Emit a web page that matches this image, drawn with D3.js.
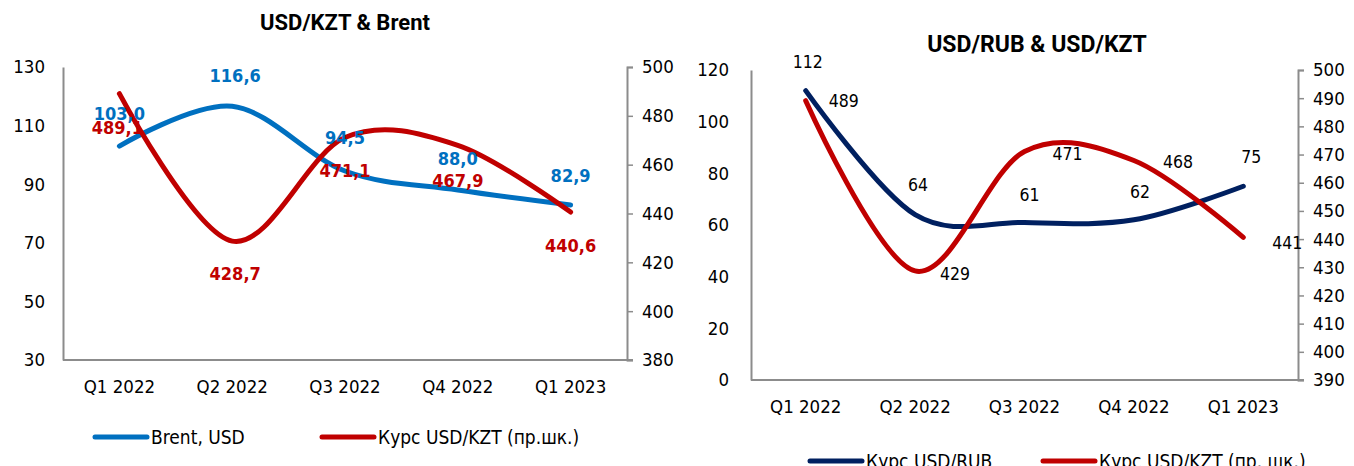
<!DOCTYPE html>
<html>
<head>
<meta charset="utf-8">
<script src="https://cdn.jsdelivr.net/npm/d3@7"></script>
<style>
  body { margin: 0; background: #fff; }
  svg { display: block; }
  text { font-family: "DejaVu Sans Condensed", "Liberation Sans Narrow", sans-serif; }
</style>
</head>
<body>
<svg id="svg-container" width="1354" height="466"></svg>
<script>
const quarters = ["Q1 2022", "Q2 2022", "Q3 2022", "Q4 2022", "Q1 2023"];
const brent = [103.0, 116.6, 94.5, 88.0, 82.9];
const kzt = [489.1, 428.7, 471.1, 467.9, 440.6];
const rub = [112, 64, 61, 62, 75];

const leftTicksA = [30, 50, 70, 90, 110, 130];
const rightTicksA = [380, 400, 420, 440, 460, 480, 500];
const leftTicksB = [0, 20, 40, 60, 80, 100, 120];
const rightTicksB = [390, 400, 410, 420, 430, 440, 450, 460, 470, 480, 490, 500];

const blue = "#0070C0";
const red = "#C00000";
const navy = "#002060";
const grey = "#8c8c8c";

const svg = d3.select("#svg-container");
const fmt1 = (v) => v.toFixed(1).replace(".", ",");
const fmt0 = (v) => d3.format(".0f")(v);

function drawChart(cfg) {
  const g = svg.append("g");
  const x = d3.scaleBand().domain(quarters).range([cfg.x0, cfg.x1]);
  const yL = d3.scaleLinear().domain(cfg.leftDomain).range([cfg.y1, cfg.y0]);
  const yR = d3.scaleLinear().domain(cfg.rightDomain).range([cfg.y1, cfg.y0]);
  const cx = (d) => x(d) + x.bandwidth() / 2;

  g.append("text")
    .attr("x", cfg.titleX).attr("y", cfg.titleY)
    .attr("text-anchor", "middle")
    .style("font-family", "Roboto, 'DejaVu Sans Condensed', sans-serif")
    .attr("font-size", cfg.titleSize).attr("font-weight", "bold")
    .text(cfg.title);

  const axL = g.append("g")
    .attr("transform", `translate(${cfg.x0},0)`)
    .call(d3.axisLeft(yL).tickValues(cfg.leftTicks).tickSize(0).tickPadding(cfg.leftPad));
  const axR = g.append("g")
    .attr("transform", `translate(${cfg.x1},0)`)
    .call(d3.axisRight(yR).tickValues(cfg.rightTicks).tickSize(6).tickPadding(9));
  const axB = g.append("g")
    .attr("transform", `translate(0,${cfg.y1})`)
    .call(d3.axisBottom(x).tickSize(0).tickPadding(20));
  [axL, axR, axB].forEach((a) => {
    a.select(".domain").attr("stroke", grey).attr("stroke-width", 2);
    a.selectAll(".tick line").attr("stroke", grey).attr("stroke-width", 1.5);
    a.selectAll("text").attr("font-size", 18.5).attr("fill", "#000")
      .style("font-family", "'DejaVu Sans Condensed', sans-serif");
  });
  axB.select(".domain").attr("d", `M${cfg.x0},0H${cfg.x1 + 6}`);

  cfg.series.forEach((s) => {
    const y = s.axis === "left" ? yL : yR;
    const line = d3.line()
      .x((d, i) => cx(quarters[i]))
      .y((d) => y(d))
      .curve(d3.curveCatmullRom.alpha(0));
    g.append("path")
      .datum(s.values)
      .attr("fill", "none")
      .attr("stroke", s.color)
      .attr("stroke-width", 5)
      .attr("stroke-linecap", "round")
      .attr("d", line);
  });

  cfg.series.forEach((s) => {
    const y = s.axis === "left" ? yL : yR;
    g.selectAll(null)
      .data(s.values)
      .enter()
      .append("text")
      .attr("x", (d, i) => cx(quarters[i]) + s.dx[i])
      .attr("y", (d, i) => y(d) + s.dy[i])
      .attr("text-anchor", "middle")
      .attr("dominant-baseline", "central")
      .attr("font-size", cfg.labelSize)
      .attr("font-weight", cfg.labelBold ? "bold" : "normal")
      .attr("fill", cfg.labelBold ? s.color : "#000")
      .text((d) => s.fmt(d));
  });

  const lg = g.append("g");
  cfg.series.forEach((s, i) => {
    const lx = cfg.legendX[i];
    lg.append("line")
      .attr("x1", lx).attr("x2", lx + 52)
      .attr("y1", cfg.legendY).attr("y2", cfg.legendY)
      .attr("stroke", s.color).attr("stroke-width", 5).attr("stroke-linecap", "round");
    lg.append("text")
      .attr("x", lx + 56).attr("y", cfg.legendY)
      .attr("dominant-baseline", "central")
      .attr("font-size", 19)
      .text(s.name);
  });
}

drawChart({
  title: "USD/KZT & Brent", titleX: 345, titleY: 30, titleSize: 22,
  x0: 63, x1: 627, y0: 67, y1: 360,
  leftDomain: [30, 130], rightDomain: [380, 500],
  leftTicks: leftTicksA, rightTicks: rightTicksA, leftPad: 18,
  labelSize: 18, labelBold: true,
  legendX: [95, 322], legendY: 437,
  series: [
    { name: "Brent, USD", values: brent, axis: "left", color: blue, fmt: fmt1,
      dx: [0, 3, 0, 0, 0], dy: [-33, -31, -34, -32, -30] },
    { name: "Курс USD/KZT (пр.шк.)", values: kzt, axis: "right", color: red, fmt: fmt1,
      dx: [-2, 3, 0, 0, 0], dy: [34, 32, 33, 35, 33] }
  ]
});

drawChart({
  title: "USD/RUB & USD/KZT", titleX: 1037, titleY: 52, titleSize: 23,
  x0: 751, x1: 1298, y0: 70, y1: 380,
  leftDomain: [0, 120], rightDomain: [390, 500],
  leftTicks: leftTicksB, rightTicks: rightTicksB, leftPad: 22,
  labelSize: 17.5, labelBold: false,
  legendX: [810, 1043], legendY: 461,
  series: [
    { name: "Курс USD/RUB", values: rub, axis: "left", color: navy, fmt: fmt0,
      dx: [2, 3, 5, 6, 8], dy: [-29, -30, -27, -28, -29] },
    { name: "Курс USD/KZT (пр. шк.)", values: kzt, axis: "right", color: red, fmt: fmt0,
      dx: [38, 40, 43, 44, 44], dy: [0, 3, 3, 2, 6] }
  ]
});
</script>
</body>
</html>
